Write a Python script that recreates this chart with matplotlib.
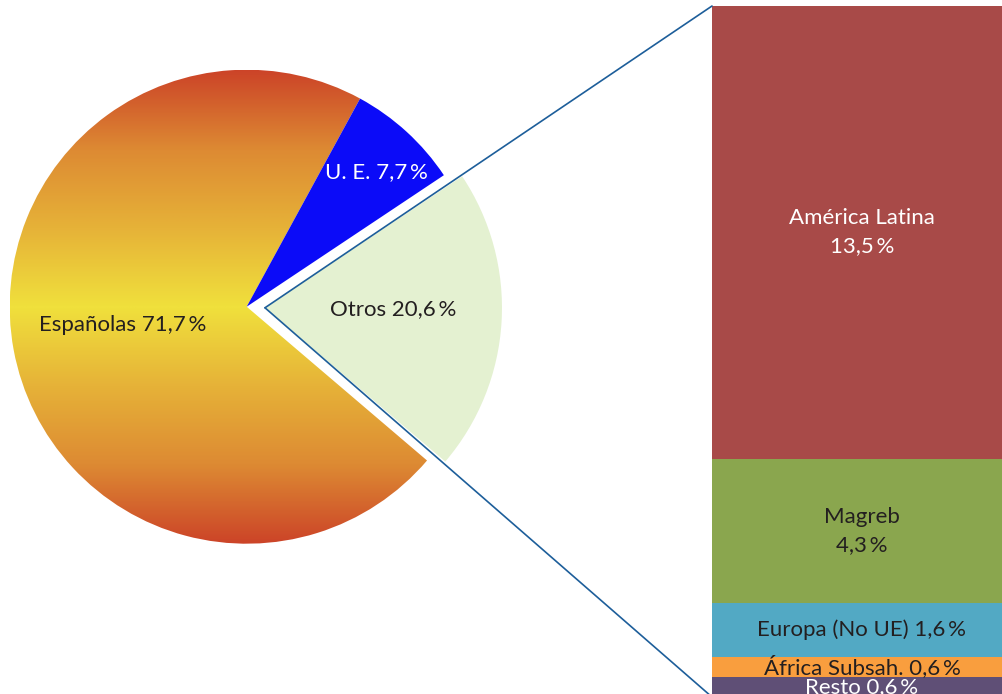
import numpy as np
import matplotlib
matplotlib.use("Agg")
import matplotlib.pyplot as plt
from matplotlib.colors import LinearSegmentedColormap
from matplotlib.patches import ConnectionPatch

plt.rcParams['font.family'] = ['Lato', 'DejaVu Sans']

# Pie: share of population by origin
pie_labels = ['Otros', 'U. E.', 'Españolas']
pie_values = [20.6, 7.7, 71.7]
pie_texts = ['Otros 20,6\u2009%', 'U. E. 7,7\u2009%', 'Españolas 71,7\u2009%']

# Breakdown of "Otros"
bar_labels = ['América Latina\n13,5\u2009%', 'Magreb\n4,3\u2009%', 'Europa (No UE) 1,6\u2009%',
              'África Subsah. 0,6\u2009%', 'Resto 0,6\u2009%']
bar_values = [13.5, 4.3, 1.6, 0.6, 0.6]
bar_colors = ['#a84a48', '#8aa64e', '#52a9c4', '#f99e3e', '#5f4f76']
bar_text_colors = ['white', '#231f20', '#231f20', '#231f20', 'white']

dark = '#231f20'
W, H = 1003, 694
FS = 16

fig = plt.figure(figsize=(W / 100, H / 100), dpi=100)
ax = fig.add_axes([0, 0, 1, 1])

# pie in pixel-like data space (y up)
cx, cy, r = 246.7, H - 306.7, 237
wedges, _ = ax.pie(pie_values, center=(cx, cy), radius=r, startangle=-40.46,
                   counterclock=True, explode=[18.3, 0, 0],
                   colors=['#e4f1d1', '#0b0bf8', 'none'],
                   wedgeprops=dict(linewidth=0), frame=True)

# vertical gradient for "Españolas"
cmap = LinearSegmentedColormap.from_list('esp', ['#f0e03c', '#e6b238', '#dd8a33', '#cc4428'])
yy = np.linspace(-1, 1, 400)
grad = np.abs(yy)[:, None] * np.ones((1, 10))
im = ax.imshow(grad, cmap=cmap, vmin=0, vmax=1, origin='lower',
               extent=(cx - r, cx + r, cy - r, cy + r), interpolation='bilinear')
im.set_clip_path(wedges[2])

ax.set_xlim(0, W)
ax.set_ylim(0, H)
ax.set_aspect('auto')
ax.axis('off')

ax.text(123, H - 325, pie_texts[2], ha='center', va='center', fontsize=FS, color=dark)
ax.text(376, H - 172, pie_texts[1], ha='center', va='center', fontsize=FS, color='white')
ax.text(393, H - 309, pie_texts[0], ha='center', va='center', fontsize=FS, color=dark)

# stacked bar on the right
bx = fig.add_axes([712 / W, -3 / H, 300 / W, 691 / H])
bottoms = np.concatenate([[0], np.cumsum(bar_values)[:-1]])
bx.bar(0, bar_values, bottom=bottoms, width=1, color=bar_colors, linewidth=0)
bx.set_xlim(-0.5, 0.5)
bx.set_ylim(sum(bar_values), 0)
bx.axis('off')
for lab, v, b, tc in zip(bar_labels, bar_values, bottoms, bar_text_colors):
    bx.text(0, b + v / 2, lab, ha='center', va='center', fontsize=FS, color=tc,
            linespacing=1.5)

# connector lines from the exploded wedge apex to the bar corners
apex = wedges[0].center
for yb in [0, sum(bar_values)]:
    con = ConnectionPatch(xyA=apex, coordsA=ax.transData, xyB=(-0.5, yb), coordsB=bx.transData,
                          color='#1d5e9a', lw=1.2, zorder=10)
    fig.add_artist(con)

fig.savefig('out.png', dpi=100)
